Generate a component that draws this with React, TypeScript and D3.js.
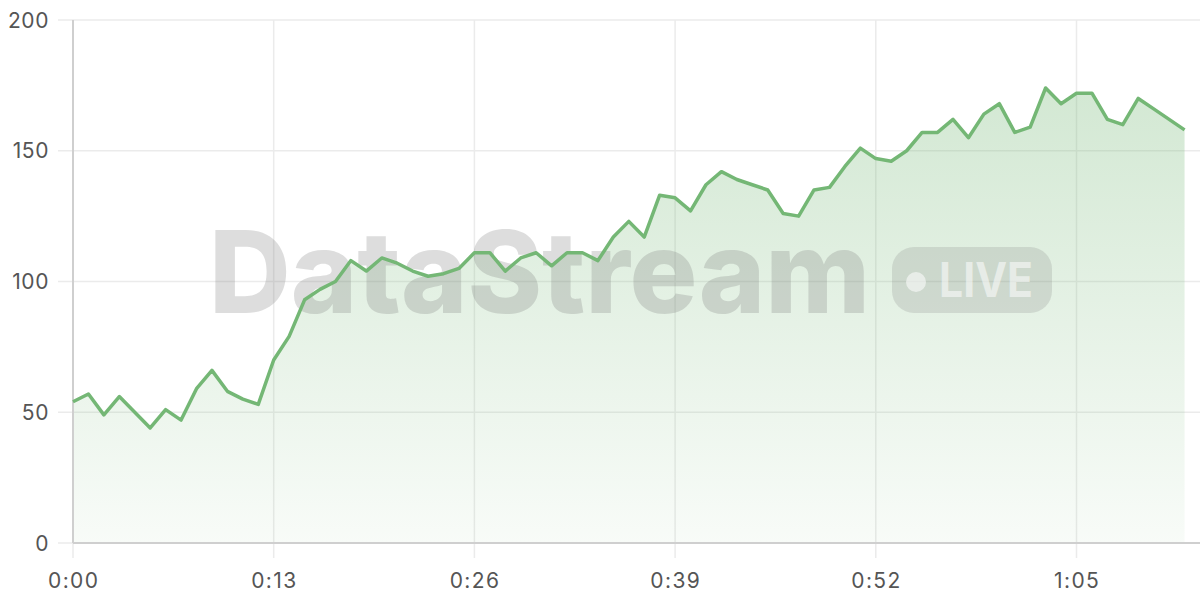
import React from "react";
import * as d3 from "d3";

const seconds: number[] = Array.from({ length: 73 }, (_, i) => i);
const values: number[] = [
  54, 57, 49, 56, 50, 44, 51, 47, 59, 66, 58, 55, 53, 70, 79, 93, 97, 100, 108, 104,
  109, 107, 104, 102, 103, 105, 111, 111, 104, 109, 111, 106, 111, 111, 108, 117, 123, 117, 133, 132,
  127, 137, 142, 139, 137, 135, 126, 125, 135, 136, 144, 151, 147, 146, 150, 157, 157, 162, 155, 164,
  168, 157, 159, 174, 168, 172, 172, 162, 160, 170, 166, 162, 158,
];
const xTicks: number[] = [0, 13, 26, 39, 52, 65];
const yTicks: number[] = [0, 50, 100, 150, 200];
const watermark = "DataStream";
const badge = "LIVE";

const W = 1200;
const H = 600;
const M = { left: 73, top: 20, right: 0, bottom: 57 };
const LINE = "#74b775";
const FONT = "Inter, 'Noto Sans', sans-serif";

const fmt = (s: number) => `${Math.floor(s / 60)}:${String(s % 60).padStart(2, "0")}`;

export default function App() {
  const x = d3.scaleLinear().domain([0, 73]).range([M.left, W - M.right]);
  const y = d3.scaleLinear().domain([0, 200]).range([H - M.bottom, M.top]);
  const pts = seconds.map((s, i) => [s, values[i]] as [number, number]);
  const line = d3.line<[number, number]>().x((d) => x(d[0])).y((d) => y(d[1]))(pts) || "";
  const area =
    d3
      .area<[number, number]>()
      .x((d) => x(d[0]))
      .y0(y(0))
      .y1((d) => y(d[1]))(pts) || "";
  const y0 = y(0);
  return (
    <div style={{ position: "fixed", left: 0, top: 0, width: W, height: H, background: "#fff" }}>
      <svg width={W} height={H} style={{ display: "block" }}>
        <defs>
          <linearGradient id="ag" gradientUnits="userSpaceOnUse" x1="0" x2="0" y1={y(200)} y2={y0}>
            <stop offset="0" stopColor={LINE} stopOpacity={0.36} />
            <stop offset="1" stopColor={LINE} stopOpacity={0.05} />
          </linearGradient>
        </defs>
        {/* grid */}
        {yTicks.map((t) => (
          <line key={"gy" + t} x1={M.left - 15} x2={W} y1={y(t)} y2={y(t)} stroke="#ebebeb" strokeWidth={1.5} />
        ))}
        {xTicks.map((t) => (
          <line key={"gx" + t} x1={x(t)} x2={x(t)} y1={M.top} y2={y0 + 15} stroke="#ebebeb" strokeWidth={1.5} />
        ))}
        <path d={area} fill="url(#ag)" />
        {/* watermark */}
        <g>
          <text
            x={209}
            y={313}
            fontFamily={FONT}
            fontWeight={800}
            fontSize={114}
            fill="rgba(120,120,120,0.25)"
            textLength={661}
            lengthAdjust="spacingAndGlyphs"
          >
            {watermark}
          </text>
          <rect x={892} y={247} width={160} height={66} rx={22} fill="rgba(120,120,120,0.2)" />
          <circle cx={916} cy={282} r={10} fill="rgba(255,255,255,0.55)" />
          <text
            x={939}
            y={297}
            fontFamily={FONT}
            fontWeight={700}
            fontSize={48}
            fill="rgba(255,255,255,0.55)"
            textLength={94}
            lengthAdjust="spacingAndGlyphs"
          >
            {badge}
          </text>
        </g>
        {/* axes */}
        <line x1={M.left} x2={M.left} y1={M.top} y2={y0} stroke="#cfcfcf" strokeWidth={2} />
        <line x1={M.left} x2={W} y1={y0} y2={y0} stroke="#cfcfcf" strokeWidth={2} />
        <path d={line} fill="none" stroke={LINE} strokeWidth={3.5} strokeLinejoin="round" />
        {yTicks.map((t) => (
          <text
            key={"ty" + t}
            x={49}
            y={y(t)}
            textAnchor="end"
            dominantBaseline="central"
            fontFamily={FONT}
            fontSize={21}
            letterSpacing={0.6}
            fill="#555"
          >
            {t}
          </text>
        ))}
        {xTicks.map((t) => (
          <text
            key={"tx" + t}
            x={x(t) + 0.7}
            y={588}
            textAnchor="middle"
            fontFamily={FONT}
            fontSize={21}
            letterSpacing={1.4}
            fill="#555"
          >
            {fmt(t)}
          </text>
        ))}
      </svg>
    </div>
  );
}
